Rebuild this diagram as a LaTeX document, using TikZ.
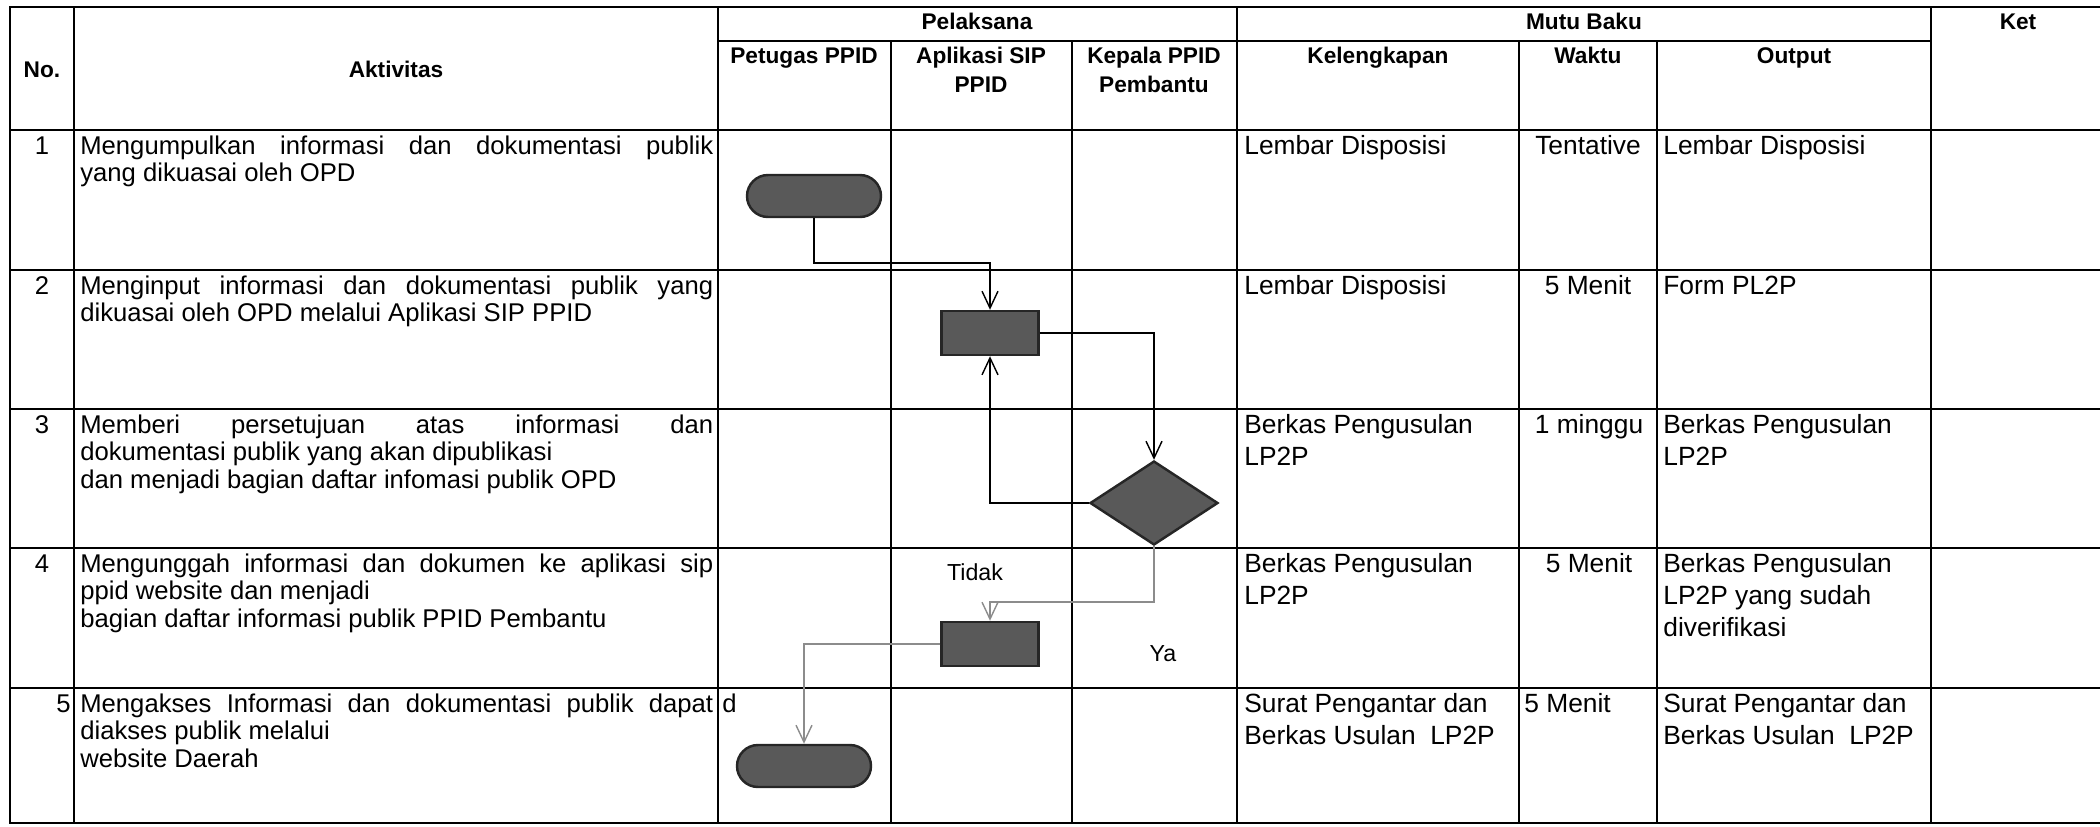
\documentclass[tikz,border=0pt]{standalone}
\usepackage{fontspec}
\setmainfont{Liberation Sans}
\usetikzlibrary{shapes.geometric,arrows.meta}
\newcommand\actfont{\fontsize{14.6}{15.9}\selectfont}
\newcommand\bodyfont{\fontsize{15}{18.4}\selectfont}
\newcommand\hdfont{\fontsize{12.9}{17}\selectfont\bfseries}
\newcommand\lblfont{\fontsize{13.2}{15}\selectfont}
\newcommand\actpar[1]{\parbox[t]{12.66cm}{\actfont #1}}
\newcommand\cellpar[2]{\parbox[t]{#1}{\bodyfont #2}}
\newcommand\jline[1]{\makebox[\linewidth][s]{#1}}
\newcommand\hdpar[2]{\parbox[t]{#1}{\centering\hdfont #2}}
\begin{document}
\begin{tikzpicture}[x=0.02cm,y=-0.02cm,
  grid/.style={line width=1.1pt,black},
  shp/.style={draw=black!85,fill=black!65,line width=1.4pt,inner sep=0},
  term/.style={shp,rounded corners=0.42cm,minimum width=2.68cm,minimum height=0.84cm},
  proc/.style={shp,minimum width=1.94cm,minimum height=0.88cm},
  dec/.style={shp,diamond,minimum width=2.56cm,minimum height=1.68cm},
  conn/.style={line width=0.8pt,-{Straight Barb[length=0.34cm,width=0.32cm]}},
  gconn/.style={conn,draw=black!45},
  txt/.style={inner sep=0,anchor=base west},
  ctr/.style={inner sep=0,anchor=base},
  hd/.style={inner sep=0,anchor=base},
]
\useasboundingbox (0,0) rectangle (2100,826);
% ---------- table grid ----------
\draw[grid] (2100,7) -- (10,7) -- (10,823) -- (2100,823);
\draw[grid] (718,41) -- (1931,41);
\foreach \y in {130,270,409,548,688} \draw[grid] (10,\y) -- (2100,\y);
\foreach \x in {74,718,1237,1931} \draw[grid] (\x,7) -- (\x,823);
\foreach \x in {891,1072,1519,1657} \draw[grid] (\x,41) -- (\x,823);
% ---------- headers ----------
\node[hd] (hno) at (42,77) {\hdfont No.};
\node[hd] (hakt) at (396,77) {\hdfont Aktivitas};
\node[hd] (hpel) at (977,29) {\hdfont Pelaksana};
\node[hd] (hmutu) at (1584,29) {\hdfont Mutu Baku};
\node[hd] (hket) at (2018,29) {\hdfont Ket};
\node[hd] (hpet) at (804,63) {\hdpar{3.3cm}{Petugas PPID}};
\node[hd] (hapl) at (981,63) {\hdpar{3.4cm}{Aplikasi SIP\\PPID}};
\node[hd] (hkep) at (1154,63) {\hdpar{3.2cm}{Kepala PPID\\Pembantu}};
\node[hd] (hkel) at (1378,63) {\hdpar{5.4cm}{Kelengkapan}};
\node[hd] (hwak) at (1588,63) {\hdpar{2.6cm}{Waktu}};
\node[hd] (hout) at (1794,63) {\hdpar{5.2cm}{Output}};
% ---------- numbers ----------
\node[ctr] (n1) at (42,154) {\actfont 1};
\node[ctr] (n2) at (42,294) {\actfont 2};
\node[ctr] (n3) at (42,433) {\actfont 3};
\node[ctr] (n4) at (42,572) {\actfont 4};
\node[inner sep=0,anchor=base east] (n5) at (71,712) {\actfont 5};
% ---------- activities ----------
\node[txt] (a1) at (80,154) {\actpar{\jline{Mengumpulkan informasi dan dokumentasi publik}\\yang dikuasai oleh OPD}};
\node[txt] (a2) at (80,294) {\actpar{\jline{Menginput informasi dan dokumentasi publik yang}\\dikuasai oleh OPD melalui Aplikasi SIP PPID}};
\node[txt] (a3) at (80,433) {\actpar{\jline{Memberi persetujuan atas informasi dan}\\dokumentasi publik yang akan dipublikasi\\dan menjadi bagian daftar infomasi publik OPD}};
\node[txt] (a4) at (80,572) {\actpar{\jline{Mengunggah informasi dan dokumen ke aplikasi sip}\\ppid website dan menjadi\\bagian daftar informasi publik PPID Pembantu}};
\node[txt] (a5) at (80,712) {\actpar{\jline{Mengakses Informasi dan dokumentasi publik dapat}\\diakses publik melalui\\website Daerah}};
\node[txt] (a5d) at (722,712) {\actfont d};
% ---------- kelengkapan ----------
\node[txt] (k1) at (1244,154) {\cellpar{5.4cm}{Lembar Disposisi}};
\node[txt] (k2) at (1244,294) {\cellpar{5.4cm}{Lembar Disposisi}};
\node[txt] (k3) at (1244,433) {\cellpar{5.4cm}{Berkas Pengusulan\\LP2P}};
\node[txt] (k4) at (1244,572) {\cellpar{5.4cm}{Berkas Pengusulan\\LP2P}};
\node[txt] (k5) at (1244,712) {\cellpar{5.4cm}{Surat Pengantar dan\\Berkas Usulan\ \ LP2P}};
% ---------- waktu ----------
\node[ctr] (w1) at (1588,154) {\bodyfont Tentative};
\node[ctr] (w2) at (1588,294) {\bodyfont 5 Menit};
\node[ctr] (w3) at (1589,433) {\bodyfont 1 minggu};
\node[ctr] (w4) at (1589,572) {\bodyfont 5 Menit};
\node[txt] (w5) at (1524,712) {\bodyfont 5 Menit};
% ---------- output ----------
\node[txt] (o1) at (1663,154) {\cellpar{5.3cm}{Lembar Disposisi}};
\node[txt] (o2) at (1663,294) {\cellpar{5.3cm}{Form PL2P}};
\node[txt] (o3) at (1663,433) {\cellpar{5.3cm}{Berkas Pengusulan\\LP2P}};
\node[txt] (o4) at (1663,572) {\cellpar{5.3cm}{Berkas Pengusulan\\LP2P yang sudah\\diverifikasi}};
\node[txt] (o5) at (1663,712) {\cellpar{5.3cm}{Surat Pengantar dan\\Berkas Usulan\ \ LP2P}};
% ---------- flow shapes ----------
\node[term] (t1) at (814,196) {};
\node[proc] (p2) at (990,333) {};
\node[dec] (d3) at (1154,503) {};
\node[proc] (p4) at (990,644) {};
\node[term] (t5) at (804,766) {};
% ---------- connectors ----------
\draw[conn] (t1.south) |- (p2.north |- 0,263) -- (p2.north);
\draw[conn] (p2.east) -| (d3.north);
\draw[conn] (d3.west) -| (p2.south);
\draw[gconn] (d3.south) |- (p4.north |- 0,602) -- (p4.north);
\draw[gconn] (p4.west) -| (t5.north);
% ---------- labels ----------
\node[inner sep=0] (ltidak) at (975,572) {\lblfont Tidak};
\node[inner sep=0] (lya) at (1163,654) {\lblfont Ya};
\end{tikzpicture}
\end{document}
